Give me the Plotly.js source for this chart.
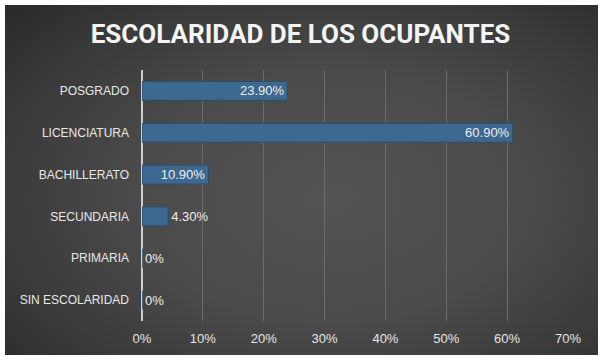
<!DOCTYPE html>
<html>
<head>
<meta charset="utf-8">
<script src="https://cdn.plot.ly/plotly-3.0.1.min.js"></script>
<style>
  html, body { margin:0; padding:0; background:#ffffff; }
  #bg { position:absolute; left:5px; top:5px; width:593px; height:350px;
        background: radial-gradient(ellipse 75% 80% at 55% 55%, #545454 0%, #4a4a4a 45%, #3a3a3a 75%, #2a2a2a 100%); }
  #chart { position:absolute; left:0; top:0; width:601px; height:360px; }
</style>
</head>
<body>
<div id="bg"></div>
<div id="chart"></div>
<script>
const categories = ['POSGRADO', 'LICENCIATURA', 'BACHILLERATO', 'SECUNDARIA', 'PRIMARIA', 'SIN ESCOLARIDAD'];
const values = [0.239, 0.609, 0.109, 0.043, 0, 0];
const labels = ['23.90%', '60.90%', '10.90%', '4.30%', '0%', '0%'];
const labelPositions = ['inside', 'inside', 'inside', 'outside', 'outside', 'outside'];
const xTickValues = [0, 0.1, 0.2, 0.3, 0.4, 0.5, 0.6, 0.7];

const trace = {
  type: 'bar',
  orientation: 'h',
  y: categories,
  x: values,
  text: labels,
  textposition: labelPositions,
  insidetextanchor: 'end',
  constraintext: 'none',
  cliponaxis: false,
  textfont: { family: 'Liberation Sans, Arial, sans-serif', size: 13, color: '#eeeeee' },
  outsidetextfont: { family: 'Liberation Sans, Arial, sans-serif', size: 13, color: '#eeeeee' },
  insidetextfont: { family: 'Liberation Sans, Arial, sans-serif', size: 13, color: '#eeeeee' },
  marker: { color: '#3d6890', line: { color: '#2c4e6e', width: 1 } },
  width: 0.45,
  hoverinfo: 'none'
};

const layout = {
  width: 601, height: 360,
  margin: { l: 142, r: 33, t: 70, b: 39 },
  paper_bgcolor: 'rgba(0,0,0,0)',
  plot_bgcolor: 'rgba(0,0,0,0)',
  showlegend: false,
  title: {
    text: '<b>ESCOLARIDAD DE LOS OCUPANTES</b>',
    x: 0.5, xanchor: 'center', xref: 'container',
    y: 0.905, yanchor: 'middle', yref: 'container',
    font: { family: 'Roboto, Arial, sans-serif', size: 26, color: '#f4f4f4' }
  },
  xaxis: {
    range: [0, 0.7],
    tickvals: xTickValues,
    tickformat: '.0%',
    showgrid: true, gridcolor: '#6c6c6c', gridwidth: 1,
    zeroline: true, zerolinecolor: '#cfcfcf', zerolinewidth: 1.5,
    showline: false, ticks: '',
    ticklabelstandoff: 8,
    tickfont: { family: 'Liberation Sans, Arial, sans-serif', size: 13, color: '#e6e6e6' },
    fixedrange: true
  },
  yaxis: {
    categoryorder: 'array', categoryarray: categories,
    autorange: 'reversed',
    showgrid: false, zeroline: false, showline: false, ticks: '',
    ticklabelstandoff: 12,
    tickfont: { family: 'Liberation Sans, Arial, sans-serif', size: 12, color: '#e8e8e8' },
    fixedrange: true
  },
  bargap: 0.55
};

Plotly.newPlot('chart', [trace], layout, { displayModeBar: false, staticPlot: true });
</script>
</body>
</html>
